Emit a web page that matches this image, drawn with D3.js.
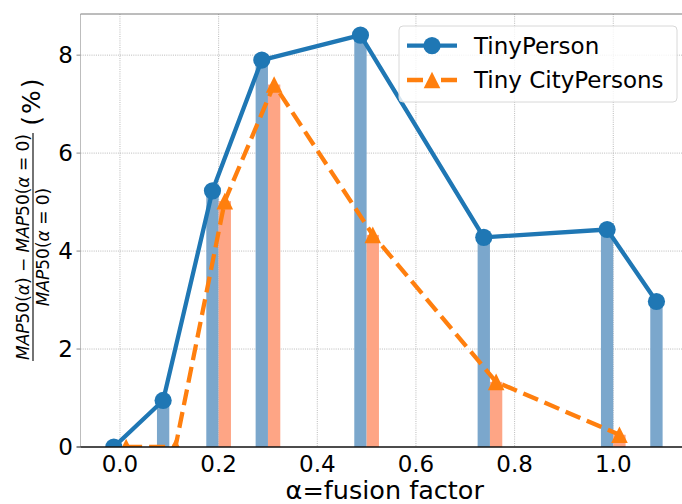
<!DOCTYPE html>
<html><head><meta charset="utf-8">
<script src="https://cdn.jsdelivr.net/npm/d3@7"></script>
<style>
body{margin:0;background:#fff}
text{font-family:"DejaVu Sans",sans-serif;fill:#000}
</style>
</head><body>
<svg id="c" width="682" height="504"></svg>
<script>
// ---- data ----
const alphaTP = [0, 0.1, 0.2, 0.3, 0.5, 0.75, 1.0, 1.1];
const tinyPerson = [0, 0.95, 5.23, 7.9, 8.41, 4.28, 4.44, 2.97];
const alphaTCP = [0, 0.1, 0.2, 0.3, 0.5, 0.75, 1.0];
const tinyCityPersons = [0, 0, 5.02, 7.4, 4.33, 1.33, 0.25];
const xTickValues = [0, 0.2, 0.4, 0.6, 0.8, 1.0];
const yTickValues = [0, 2, 4, 6, 8];
const seriesNames = ["TinyPerson", "Tiny CityPersons"];
const xLabel = "α=fusion factor";

// ---- layout ----
const L = 80.5, R = 689, T = 14, B = 447;
const offset = 0.0125, barW = 0.025;
const blue = "#1f77b4", orange = "#ff7f0e";
const blueBar = "#7ba7cc", orangeBar = "#fea585";

const svg = d3.select("#c");
const x = d3.scaleLinear().domain([-0.08, 1.1535]).range([L, R]);
const y = d3.scaleLinear().domain([0, 8.84]).range([B, T]);

svg.append("defs").append("clipPath").attr("id", "clip")
  .append("rect").attr("x", L).attr("y", T).attr("width", R - L).attr("height", B - T);

// grid
const grid = svg.append("g");
grid.selectAll(".vg").data(xTickValues).join("line")
  .attr("x1", d => x(d)).attr("x2", d => x(d)).attr("y1", T).attr("y2", B)
  .attr("stroke", "#a8a8a8").attr("stroke-width", 0.8).attr("stroke-dasharray", "1,1.2");
grid.selectAll(".hg").data(yTickValues.filter(d => d > 0)).join("line")
  .attr("x1", L).attr("x2", R).attr("y1", d => y(d)).attr("y2", d => y(d))
  .attr("stroke", "#a8a8a8").attr("stroke-width", 0.8).attr("stroke-dasharray", "1,1.2");

// bars
const tpData = alphaTP.map((a, i) => ({a, v: tinyPerson[i]}));
const tcpData = alphaTCP.map((a, i) => ({a, v: tinyCityPersons[i]}));
svg.append("g").selectAll("rect").data(tpData).join("rect")
  .attr("x", d => x(d.a - barW)).attr("width", d => x(d.a) - x(d.a - barW))
  .attr("y", d => y(d.v)).attr("height", d => B - y(d.v)).attr("fill", blueBar);
svg.append("g").selectAll("rect").data(tcpData).join("rect")
  .attr("x", d => x(d.a)).attr("width", d => x(d.a + barW) - x(d.a))
  .attr("y", d => y(d.v)).attr("height", d => B - y(d.v)).attr("fill", orangeBar);

// lines
const plot = svg.append("g").attr("clip-path", "url(#clip)");
const lineTP = d3.line().x(d => x(d.a - offset)).y(d => y(d.v));
const lineTCP = d3.line().x(d => x(d.a + offset)).y(d => y(d.v));
plot.append("path").datum(tpData).attr("d", lineTP).attr("fill", "none")
  .attr("stroke", blue).attr("stroke-width", 4.3).attr("stroke-linejoin", "round");
plot.selectAll(".c").data(tpData).join("circle")
  .attr("cx", d => x(d.a - offset)).attr("cy", d => y(d.v)).attr("r", 8.6).attr("fill", blue);
plot.append("path").datum(tcpData).attr("d", lineTCP).attr("fill", "none")
  .attr("stroke", orange).attr("stroke-width", 4.3).attr("stroke-dasharray", "16,7");
const triPath = "M0,-8.3L8.3,8.3L-8.3,8.3Z";
plot.selectAll(".t").data(tcpData).join("path")
  .attr("d", triPath).attr("transform", d => `translate(${x(d.a + offset)},${y(d.v)})`)
  .attr("fill", orange);

// spines
svg.append("line").attr("x1", L).attr("x2", L).attr("y1", T).attr("y2", B).attr("stroke", "#bdbdbd").attr("stroke-width", 1);
svg.append("line").attr("x1", L).attr("x2", R).attr("y1", T).attr("y2", T).attr("stroke", "#7a7a7a").attr("stroke-width", 1);
svg.append("line").attr("x1", L).attr("x2", R).attr("y1", B).attr("y2", B).attr("stroke", "#111").attr("stroke-width", 1.3);

// y ticks
const yAx = svg.append("g");
yAx.selectAll("line").data(yTickValues).join("line")
  .attr("x1", L - 4).attr("x2", L).attr("y1", d => y(d)).attr("y2", d => y(d))
  .attr("stroke", d => d === 0 ? "#111" : "#888").attr("stroke-width", 1);
yAx.selectAll("text").data(yTickValues).join("text")
  .attr("x", 73).attr("y", d => y(d)).attr("dy", "0.36em").attr("text-anchor", "end")
  .attr("font-size", 23).text(d => d3.format("d")(d));

// x ticks
svg.append("g").selectAll("text").data(xTickValues).join("text")
  .attr("x", d => x(d)).attr("y", 472).attr("text-anchor", "middle")
  .attr("font-size", 23).text(d => d3.format(".1f")(d));

// x label
svg.append("text").attr("x", (L + R) / 2).attr("y", 498.5).attr("text-anchor", "middle")
  .attr("font-size", 25.5).text(xLabel);

// y label (fraction)
const yl = svg.append("g").attr("transform", "translate(33,247) rotate(-90)");
function mathText(g, v, size, parts) {
  const t = g.append("text").attr("x", 0).attr("y", v).attr("text-anchor", "middle").attr("font-size", size);
  parts.forEach(([s, it]) => t.append("tspan").attr("font-style", it ? "italic" : "normal").text(s));
  return t;
}
const num = mathText(yl, -4, 20, [["MAP", 1], ["50(", 0], ["α", 1], [") − ", 0], ["MAP", 1], ["50(", 0], ["α", 1], [" = 0)", 0]]);
const fs = 20 * 226 / num.node().getComputedTextLength();
num.attr("font-size", fs);
const numLen = num.node().getComputedTextLength();
yl.append("line").attr("x1", -numLen / 2 - 1).attr("x2", numLen / 2 + 1).attr("y1", 0).attr("y2", 0).attr("stroke", "#000").attr("stroke-width", 1.1);
mathText(yl, 4 + fs * 0.73, fs, [["MAP", 1], ["50(", 0], ["α", 1], [" = 0)", 0]]);
yl.append("text").attr("x", numLen / 2 + 33).attr("y", 7).attr("text-anchor", "middle").attr("font-size", 25)
  .attr("letter-spacing", 2).text("(%)");

// legend
const lg = svg.append("g");
lg.append("rect").attr("x", 399).attr("y", 26).attr("width", 278).attr("height", 76).attr("rx", 4)
  .attr("fill", "#fff").attr("fill-opacity", 0.8).attr("stroke", "#d8d8d8").attr("stroke-width", 1);
const legY = [45.7, 80];
lg.append("line").attr("x1", 407).attr("x2", 457).attr("y1", legY[0]).attr("y2", legY[0]).attr("stroke", blue).attr("stroke-width", 4.3);
lg.append("circle").attr("cx", 432).attr("cy", legY[0]).attr("r", 8.6).attr("fill", blue);
lg.append("line").attr("x1", 407).attr("x2", 457).attr("y1", legY[1]).attr("y2", legY[1]).attr("stroke", orange).attr("stroke-width", 4.3).attr("stroke-dasharray", "16,18,16");
lg.append("path").attr("d", triPath).attr("transform", `translate(432,${legY[1]})`).attr("fill", orange);
lg.selectAll(".lt").data(seriesNames).join("text")
  .attr("x", 474).attr("y", (d, i) => legY[i]).attr("dy", "0.36em").attr("font-size", 23).text(d => d);
</script>
</body></html>
